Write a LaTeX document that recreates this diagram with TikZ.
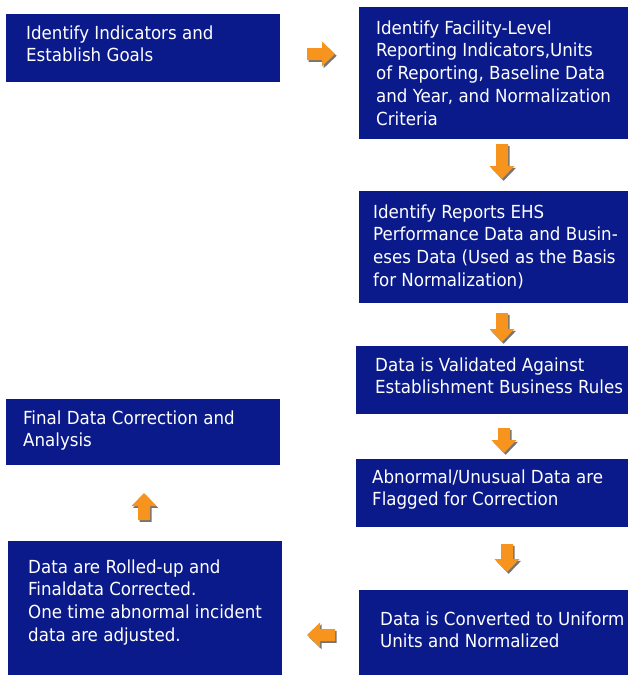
\documentclass[tikz,border=0pt]{standalone}
\usepackage{fontspec}
\setmainfont[FakeStretch=1.03]{DejaVu Sans Condensed}
\definecolor{boxblue}{RGB}{10,26,138}
\definecolor{arrorange}{RGB}{247,148,30}
\definecolor{arrshade}{RGB}{70,70,70}
\newcommand{\tl}[1]{\vtop{\halign{##\hfil\cr#1\crcr}}}
\newcommand{\barr}[4]{%
  \begin{scope}[shift={(#1+1.6,#2+1.8)},rotate=#3]
    \fill[arrshade,opacity=0.75] (-#4,-6) -- (#4-13,-6) -- (#4-13,-12.5) -- (#4,0) -- (#4-13,12.5) -- (#4-13,6) -- (-#4,6) -- cycle;
  \end{scope}
  \begin{scope}[shift={(#1,#2)},rotate=#3]
    \fill[arrorange] (-#4,-6) -- (#4-13,-6) -- (#4-13,-12.5) -- (#4,0) -- (#4-13,12.5) -- (#4-13,6) -- (-#4,6) -- cycle;
  \end{scope}}
\tikzset{
  box/.style={fill=boxblue, draw=none, anchor=north west, inner sep=0pt, outer sep=0pt},
  txt/.style={anchor=base west, inner sep=0pt, text=white, font=\fontsize{18}{22.8}\selectfont}
}
\begin{document}
\begin{tikzpicture}[x=1pt,y=-1pt]
\useasboundingbox (0,0) rectangle (628,675);
% boxes
\node[box, minimum width=274pt, minimum height=68pt] (b1) at (6,14) {};
\node[box, minimum width=269pt, minimum height=132pt] (b2) at (359,7) {};
\node[box, minimum width=269pt, minimum height=112pt] (b3) at (359,191) {};
\node[box, minimum width=272pt, minimum height=68pt] (b4) at (356,346) {};
\node[box, minimum width=272pt, minimum height=68pt] (b5) at (356,459) {};
\node[box, minimum width=269pt, minimum height=85pt] (b6) at (359,590) {};
\node[box, minimum width=274pt, minimum height=134pt] (b7) at (8,541) {};
\node[box, minimum width=274pt, minimum height=66pt] (b8) at (6,399) {};
% texts
\node[txt] (t1) at (26,39) {\tl{Identify Indicators and\cr Establish Goals}};
\node[txt] (t2) at (376,34) {\tl{Identify Facility-Level\cr Reporting Indicators,Units\cr of Reporting, Baseline Data\cr and Year, and Normalization\cr Criteria}};
\node[txt] (t3) at (373,218) {\tl{Identify Reports EHS\cr Performance Data and Busin-\cr eses Data (Used as the Basis\cr for Normalization)}};
\node[txt] (t4) at (375,371) {\tl{Data is Validated Against\cr Establishment Business Rules}};
\node[txt] (t5) at (372,483) {\tl{Abnormal/Unusual Data are\cr Flagged for Correction}};
\node[txt] (t6) at (380,625) {\tl{Data is Converted to Uniform\cr Units and Normalized}};
\node[txt] (t7) at (28,573) {\tl{Data are Rolled-up and\cr Finaldata Corrected.\cr One time abnormal incident\cr data are adjusted.}};
\node[txt] (t8) at (23,424) {\tl{Final Data Correction and\cr Analysis}};
% block arrows
\barr{321}{54}{0}{14}
\barr{502}{161.5}{-90}{17.5}
\barr{502}{327.5}{-90}{14.5}
\barr{504}{440.5}{-90}{12.5}
\barr{507}{558}{-90}{14}
\barr{321}{635}{180}{14}
\barr{144}{506.5}{90}{13.5}
\end{tikzpicture}
\end{document}
